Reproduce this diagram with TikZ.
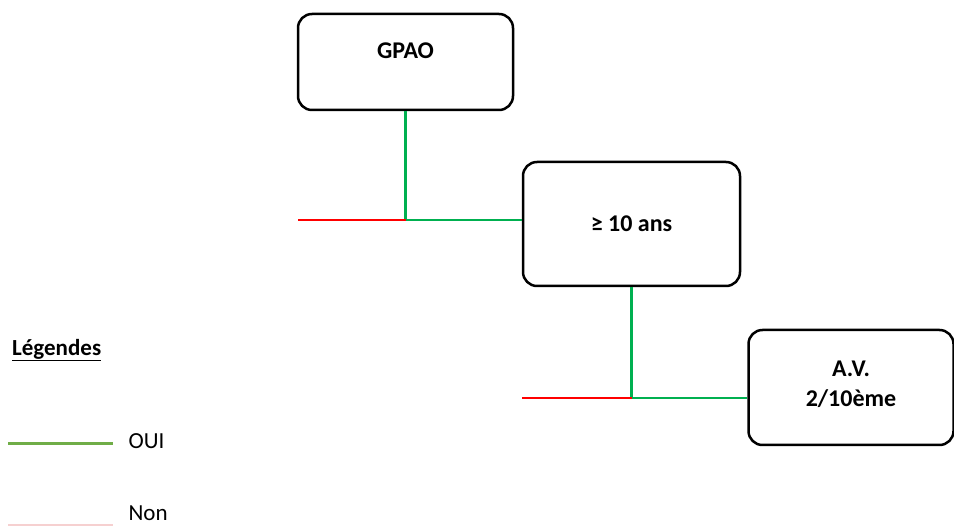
\documentclass[tikz,border=0pt]{standalone}
\usepackage{fontspec}
\setmainfont{Carlito}
\usepackage{tikz}
\usetikzlibrary{calc}

\definecolor{ouigreen}{HTML}{00B050}
\definecolor{legendgreen}{HTML}{70AD47}
\definecolor{nonred}{HTML}{FF0000}
\definecolor{nonpink}{HTML}{F6D0D0}

\begin{document}
\begin{tikzpicture}[x=1pt, y=-1pt,
    every node/.style={font=\fontsize{23}{30}\selectfont},
    box/.style={rectangle, rounded corners=14pt, draw, line width=2.5pt, font=\fontsize{24}{30}\selectfont\bfseries, align=center, inner sep=0pt},
    oui/.style={draw, ouigreen, line width=2.5pt},
    non/.style={draw, nonred, line width=2.5pt}]
    \useasboundingbox (0,0) rectangle (954,526);
    % Place nodes
    \node [box, minimum width=215pt, minimum height=96pt, text depth=22pt] (gpao) at (405.5,62) {GPAO};
    \node [box, minimum width=217pt, minimum height=124pt] (ans) at (631.5,224) {≥ 10 ans};
    \node [box, minimum width=205pt, minimum height=115pt, text depth=8pt] (av) at (851,387.5) {A.V.\\2/10ème};
    % Branches
    \coordinate (j1) at (gpao.south |- 0,220);
    \coordinate (n1) at (298,220);
    \path [oui] (gpao.south) -- (j1) -- (j1 -| ans.west);
    \path [non] (j1) -- (n1);
    \coordinate (j2) at (ans.south |- 0,398);
    \coordinate (n2) at (522,398);
    \path [oui] (ans.south) -- (j2) -- (j2 -| av.west);
    \path [non] (j2) -- (n2);
    % Legend
    \node [anchor=base west, inner sep=0pt, font=\fontsize{23}{30}\selectfont\bfseries] (leg) at (12,356) {Légendes};
    \path [draw, line width=1.6pt] ($(leg.base west)+(0,4.5)$) -- ($(leg.base east)+(0,4.5)$);
    \coordinate (oa) at (8,444);
    \coordinate (ob) at (113,444);
    \path [draw, legendgreen, line width=3pt] (oa) -- (ob);
    \node [anchor=west] (ouitxt) at (125,441) {OUI};
    \coordinate (na) at (8,525);
    \coordinate (nb) at (113,525);
    \path [draw, nonpink, line width=1.5pt] (na) -- (nb);
    \node [anchor=west] (nontxt) at (125,513) {Non};
\end{tikzpicture}
\end{document}
